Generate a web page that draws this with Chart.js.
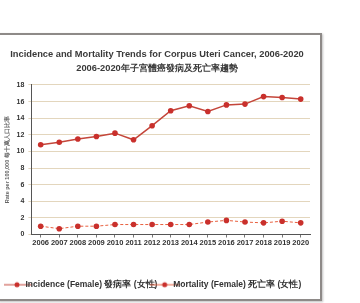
<!DOCTYPE html>
<html>
<head>
<meta charset="utf-8">
<script src="https://cdn.jsdelivr.net/npm/chart.js@4"></script>
<style>
  html, body { margin: 0; padding: 0; background: #fff; width: 360px; height: 303px; overflow: hidden; }
  #card {
    position: absolute; left: -2px; top: 33px; width: 320px; height: 264px;
    border: 2px solid #8e8a88; background: #fff;
    box-shadow: 1px 1px 2px rgba(0,0,0,0.25);
  }
  #card canvas { display: block; }
</style>
</head>
<body>
<div id="card"><canvas id="chart" width="320" height="264"></canvas></div>
<script>
// years on the x axis
const years = ["2006","2007","2008","2009","2010","2011","2012","2013","2014","2015","2016","2017","2018","2019","2020"];
// rates per 100,000 (female)
const incidence = [10.8, 11.1, 11.5, 11.8, 12.2, 11.4, 13.1, 14.9, 15.5, 14.8, 15.6, 15.7, 16.6, 16.5, 16.3];
const mortality = [1.0, 0.7, 1.0, 1.0, 1.2, 1.2, 1.2, 1.2, 1.2, 1.5, 1.7, 1.5, 1.4, 1.6, 1.4];
const yTicks = [0, 2, 4, 6, 8, 10, 12, 14, 16, 18];

const titleLines = [
  "Incidence and Mortality Trends for Corpus Uteri Cancer, 2006-2020",
  "2006-2020年子宮體癌發病及死亡率趨勢"
];

// little legend symbol: line with a dot in the middle
function legendIcon(color, dotColor) {
  let c = document.createElement("canvas");
  c.width = 30; c.height = 8;
  let ctx = c.getContext("2d");
  ctx.strokeStyle = color;
  ctx.lineWidth = 1;
  ctx.beginPath();
  ctx.moveTo(0, 4); ctx.lineTo(30, 4);
  ctx.stroke();
  ctx.fillStyle = dotColor;
  ctx.beginPath();
  ctx.arc(15, 4, 2.5, 0, Math.PI * 2);
  ctx.fill();
  return c;
}

const incColor = "#c4463a";
const morColor = "#e8603f";
const font = "Liberation Sans, Arial";

new Chart(document.getElementById("chart"), {
  type: "line",
  data: {
    labels: years,
    datasets: [{
      label: "Incidence (Female) 發病率 (女性)",
      data: incidence,
      borderColor: incColor,
      backgroundColor: "#c9302c",
      borderWidth: 1.5,
      pointRadius: 2.8,
      pointBorderWidth: 0,
      tension: 0
    }, {
      label: "Mortality (Female) 死亡率 (女性)",
      data: mortality,
      borderColor: morColor,
      backgroundColor: "#c9302c",
      borderWidth: 1,
      borderDash: [3, 2],
      pointRadius: 2.8,
      pointBorderWidth: 0,
      tension: 0
    }]
  },
  options: {
    responsive: false,
    animation: false,
    layout: { padding: { left: 4, right: 10, top: 0, bottom: 0 } },
    plugins: {
      title: {
        display: true,
        text: titleLines,
        color: "#3a3a3a",
        font: { family: font, size: 9.3, weight: "bold", lineHeight: 1.45 },
        padding: { top: 13, bottom: 10 }
      },
      legend: {
        position: "bottom",
        labels: {
          usePointStyle: true,
          generateLabels: chart => chart.data.datasets.map((ds, i) => ({
            text: ds.label,
            pointStyle: legendIcon(ds.borderColor, "#c9302c"),
            fontColor: "#333",
            hidden: false,
            datasetIndex: i,
            lineWidth: 0,
            strokeStyle: "transparent",
            fillStyle: "transparent"
          })),
          color: "#333",
          font: { family: font, size: 8.5, weight: "bold" },
          boxWidth: 30,
          padding: 3
        }
      },
      tooltip: { enabled: false }
    },
    scales: {
      x: {
        offset: true,
        afterFit: axis => { axis.height = 43; },
        grid: { display: true, drawOnChartArea: false, tickLength: 3, color: "#777" },
        border: { color: "#555", width: 1 },
        ticks: {
          color: "#333",
          font: { family: font, size: 7.5, weight: "bold" },
          maxRotation: 0, autoSkip: false, padding: 1
        }
      },
      y: {
        min: 0, max: 18,
        afterBuildTicks: axis => { axis.ticks = yTicks.map(v => ({ value: v })); },
        title: {
          display: true,
          text: "Rate per 100,000 每十萬人口比率",
          color: "#666",
          font: { family: font, size: 5.5, weight: "bold" },
          padding: { top: 0, bottom: 2 }
        },
        grid: { color: "#e3d6bd", lineWidth: 1, tickLength: 3 },
        border: { color: "#555", width: 1 },
        ticks: {
          color: "#333",
          font: { family: font, size: 7, weight: "bold" },
          padding: 4
        }
      }
    }
  }
});
</script>
</body>
</html>
